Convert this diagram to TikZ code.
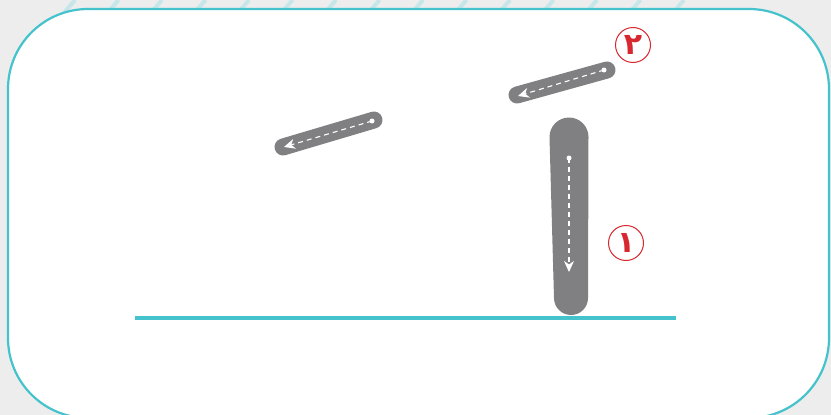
\documentclass[tikz,border=0pt]{standalone}
\usepackage{fontspec}
\usepackage{tikz}
\usetikzlibrary{arrows.meta,positioning,calc}
\newfontfamily\arabicfont[Script=Arabic]{DejaVu Sans}
\TeXXeTstate=1
\definecolor{frameteal}{HTML}{45C3CC}
\definecolor{bggray}{HTML}{EDEDED}
\definecolor{stripeteal}{HTML}{C6E7EA}
\definecolor{strokegray}{HTML}{808083}
\definecolor{labelred}{HTML}{D7282F}

\begin{document}
\begin{tikzpicture}[x=1pt, y=-1pt,
  pen/.style={strokegray, line cap=round},
  guide/.style={white, dashed, dash pattern=on 5pt off 4pt, line width=1.1pt,
                -{Stealth[length=11pt, width=10pt, inset=3.5pt]}},
  startdot/.style={circle, fill=white, inner sep=0pt, minimum size=5pt},
  numlabel/.style={circle, draw=labelred, line width=1pt, minimum size=35pt,
                   inner sep=0pt, text=labelred, font=\arabicfont\bfseries\fontsize{30}{30}\selectfont}
]
\useasboundingbox (0,0) rectangle (831,415);
\clip (0,0) rectangle (831,415);

% Background and frame
\fill[bggray] (0,0) rectangle (831,415);
\foreach \x in {69,112.5,...,700}
  \draw[stripeteal, line width=4pt] (\x-6,14) -- (\x+6,0);
\draw[frameteal, line width=2.2pt, fill=white, rounded corners=80pt] (8,9) rectangle (829,418);

% Baseline
\draw[frameteal, line width=4pt] (135,318) -- (676,318);

% Stroke 1: vertical
\coordinate (s1top) at (569,137);
\coordinate (s1bot) at (571,298);
\fill[strokegray] (549.5,137) arc[start angle=180, end angle=360, radius=19.5]
  -- (588,298) arc[start angle=0, end angle=180, radius=17] -- cycle;
\node[startdot] (d1) at (569,158) {};
\coordinate (a1) at (569,272);
\draw[guide] (d1.center) -- (a1);

% Stroke 2: upper slant
\coordinate (s2a) at (607,70);
\coordinate (s2b) at (517,95);
\draw[pen, line width=17pt] (s2a) -- (s2b);
\node[startdot] (d2) at (604,70) {};
\coordinate (a2) at (518,96);
\draw[guide] (d2.center) -- (a2);

% Stroke 3: left slant
\coordinate (s3a) at (374,120);
\coordinate (s3b) at (283,147);
\draw[pen, line width=17pt] (s3a) -- (s3b);
\node[startdot] (d3) at (372,121) {};
\coordinate (a3) at (284,147);
\draw[guide] (d3.center) -- (a3);

% Order labels
\node[numlabel] (n2) at (633,45) {\beginR ٢\endR};
\node[numlabel] (n1) at (626,243) {\beginR ١\endR};
\end{tikzpicture}
\end{document}
